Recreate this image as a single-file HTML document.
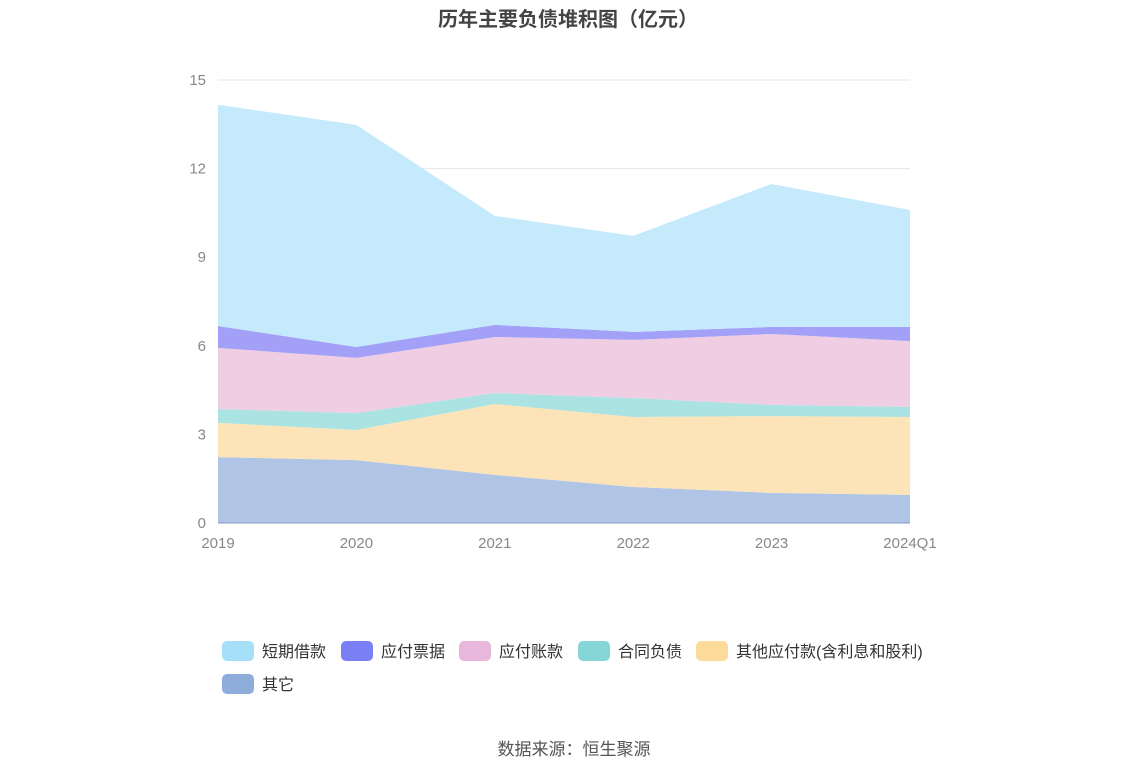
<!DOCTYPE html>
<html><head><meta charset="utf-8"><style>
body{margin:0;background:#fff;font-family:"Liberation Sans","Noto Sans CJK SC",sans-serif;}
</style></head><body>
<svg width="1148" height="776" xmlns="http://www.w3.org/2000/svg" font-family="Liberation Sans, Noto Sans CJK SC, sans-serif">
<rect width="1148" height="776" fill="#fff"/>
<text x="568" y="26" text-anchor="middle" font-size="20" font-weight="bold" fill="#444">历年主要负债堆积图（亿元）</text>
<g id="grid"></g><g id="areas"></g><g id="axes"></g><g id="legend"></g>
<text x="574" y="755" text-anchor="middle" font-size="17" fill="#555">数据来源：恒生聚源</text>
</svg>
<script>
const categories=["2019","2020","2021","2022","2023","2024Q1"];
const seriesNames=["其它","其他应付款(含利息和股利)","合同负债","应付账款","应付票据","短期借款"];
const other=[2.23,2.13,1.63,1.22,1.02,0.95];
const otherPayables=[1.16,1.02,2.40,2.37,2.60,2.64];
const contractLiab=[0.47,0.57,0.37,0.64,0.38,0.34];
const accountsPayable=[2.07,1.87,1.90,1.97,2.40,2.23];
const notesPayable=[0.74,0.37,0.41,0.27,0.24,0.48];
const shortLoans=[7.49,7.52,3.69,3.25,4.84,3.96];
const yTicks=[0,3,6,9,12,15];
const NS="http://www.w3.org/2000/svg";
const x0=218,x1=910,yb=523,yt=80,ymax=15;
const X=i=>x0+i*(x1-x0)/(categories.length-1);
const Y=v=>yb-v*(yb-yt)/ymax;
function mk(t,a,p){const e=document.createElementNS(NS,t);for(const k in a)e.setAttribute(k,a[k]);p.appendChild(e);return e;}
const grid=document.getElementById('grid');
yTicks.forEach(t=>{
 const l=mk('line',{x1:x0,x2:x1,y1:Y(t),y2:Y(t),stroke:'#e6e6e6'},grid);
 
 
 const tx=mk('text',{x:206,y:Y(t)+5,'text-anchor':'end','font-size':15,fill:'#888'},grid);
 tx.textContent=t;
 
 
});
const data=[other,otherPayables,contractLiab,accountsPayable,notesPayable,shortLoans];
const fills=["#b0c5e6","#fde4b8","#abe3e3","#efcde3","#a3a0f8","#c5eafc"];
const legendColors=["#8eaddb","#fddb9a","#86d6d8","#e8b8dc","#7b7ff5","#a6dff8"];
const names=["area-other","area-other-payables","area-contract-liabilities","area-accounts-payable","area-notes-payable","area-short-loans"];
const areas=document.getElementById('areas');
let base=categories.map(()=>0);
data.forEach((s,k)=>{
 const top=base.map((b,i)=>b+s[i]);
 let d='M'+top.map((v,i)=>X(i)+','+Y(v)).join('L');
 for(let i=categories.length-1;i>=0;i--)d+='L'+X(i)+','+Y(base[i]);
 const p=mk('path',{d:d+'Z',fill:fills[k]},areas);
 
 
 base=top;
});
const axes=document.getElementById('axes');
const ax=mk('line',{x1:x0,x2:x1,y1:yb,y2:yb,stroke:'#8a99c0'},axes);


categories.forEach((c,i)=>{
 const t=mk('text',{x:X(i),y:548,'text-anchor':'middle','font-size':15,fill:'#888'},axes);
 t.textContent=c;
 
 
});
const legend=document.getElementById('legend');
const order=[5,4,3,2,1,0];
const pos=[[222,651],[341,651],[459,651],[578,651],[696,651],[222,684]];
order.forEach((k,j)=>{
 const g=mk('g',{},legend);
 
 
 mk('rect',{x:pos[j][0],y:pos[j][1]-10,width:32,height:20,rx:5,fill:legendColors[k]},g);
 const t=mk('text',{x:pos[j][0]+40,y:pos[j][1]+6,'font-size':16,fill:'#333'},g);
 t.textContent=seriesNames[k];
});
</script>
</body></html>
